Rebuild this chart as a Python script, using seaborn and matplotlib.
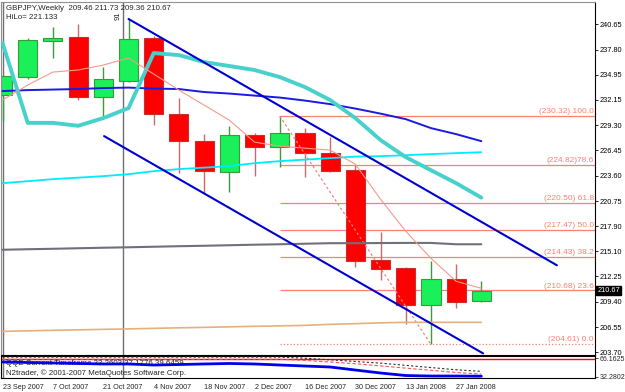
import numpy as np
import pandas as pd
import seaborn as sns
import matplotlib.pyplot as plt
from matplotlib.transforms import blended_transform_factory

# weekly bars
dates = ['23 Sep 2007', '30 Sep 2007', '7 Oct 2007', '14 Oct 2007', '21 Oct 2007',
         '28 Oct 2007', '4 Nov 2007', '11 Nov 2007', '18 Nov 2007', '25 Nov 2007',
         '2 Dec 2007', '9 Dec 2007', '16 Dec 2007', '23 Dec 2007', '30 Dec 2007',
         '6 Jan 2008', '13 Jan 2008', '20 Jan 2008', '27 Jan 2008', '3 Feb 2008']
open_ = [232.68, 234.71, 238.77, 239.22, 232.45, 234.26, 239.10, 230.54, 227.50, 224.00,
         228.17, 226.82, 228.40, 226.14, 224.22, 214.08, 213.17, 209.00, 211.93, 209.46]
high = [234.90, 239.10, 240.35, 240.68, 235.84, 241.25, 239.30, 232.34, 228.28, 229.18,
        228.40, 230.32, 228.96, 227.94, 224.79, 217.23, 213.29, 213.96, 213.62, 211.73]
low = [229.75, 234.48, 236.85, 232.12, 230.19, 234.20, 229.30, 223.89, 221.63, 221.74,
       223.55, 224.60, 223.44, 224.00, 213.29, 211.82, 206.86, 204.61, 208.66, 209.36]
close = [234.82, 238.88, 239.10, 232.45, 234.48, 238.99, 230.54, 227.50, 224.11, 228.17,
         226.82, 228.40, 226.14, 224.11, 213.96, 213.06, 209.00, 211.93, 209.34, 210.67]

# indicator lines on the price chart
hilo = [238.54, 229.55, 229.55, 229.22, 230.09, 231.21, 237.41, 237.18, 236.40, 235.95,
        235.50, 234.71, 233.58, 232.12, 230.09, 227.61, 225.69, 224.22, 222.76, 221.13]
ma_fast = [232.12, 233.81, 235.27, 235.50, 236.06, 236.85, 235.05, 233.24, 231.55, 229.86,
           227.38, 226.93, 226.70, 226.48, 224.90, 220.95, 217.35, 214.30, 211.71, 210.92]
ma_blue = [233.13, 233.24, 233.30, 233.36, 233.47, 233.52, 233.41, 233.36, 233.02, 232.85,
           232.62, 232.40, 232.06, 231.66, 231.16, 230.59, 229.97, 228.96, 228.28, 227.49]
ma_cyan = [222.76, 222.98, 223.21, 223.38, 223.55, 223.77, 224.11, 224.34, 224.51, 224.68,
           225.01, 225.24, 225.41, 225.58, 225.75, 225.80, 225.91, 226.03, 226.14, 226.25]
ma_gray = [215.26, 215.32, 215.37, 215.43, 215.49, 215.54, 215.60, 215.66, 215.71, 215.77,
           215.83, 215.88, 215.94, 216.00, 216.00, 216.02, 216.03, 216.03, 215.88, 215.88]
ma_tan = [206.07, 206.13, 206.19, 206.24, 206.30, 206.35, 206.41, 206.47, 206.52, 206.58,
          206.64, 206.69, 206.75, 206.86, 206.94, 207.03, 207.09, 207.09, 207.09, 207.09]

# channel and fibonacci objects
upper_chan_x = [5.0, 22.0]
upper_chan_y = [241.25, 213.51]
lower_chan_x = [4.03, 19.07]
lower_chan_y = [228.06, 203.59]
vline_x = [0.0, 4.78]
fib_x = [11, 17]
fib_y = [230.32, 204.61]
fib_levels = [230.32, 224.82, 220.50, 217.47, 214.43, 210.68, 204.61]
fib_labels = ['(230.32) 100.0', '(224.82)78.6', '(220.50) 61.8', '(217.47) 50.0',
              '(214.43) 38.2', '(210.68) 23.6', '(204.61) 0.0']
price_ticks = [240.65, 237.80, 234.95, 232.15, 229.30, 226.45, 223.60, 220.75,
               217.90, 215.10, 212.25, 209.40, 206.55, 203.70]

# QQE sub window
qqe_rsi = [59.1, 58.2, 57.3, 56.4, 55.5, 55.5, 53.6, 54.5, 55.5, 56.4,
           55.5, 53.6, 51.8, 50.0, 44.5, 39.1, 34.5, 33.6, 33.6, 33.26]
qqe_fast = [64, 64, 64, 64, 64, 64, 64, 64, 64, 64, 64, 64, 62, 59, 56, 52, 48, 44, 40, 37.18]
qqe_slow = [68, 68, 68, 68, 68, 68, 68, 68, 68, 68, 68, 68, 66, 63, 60, 57, 53, 49, 45, 42]
qqe_level = 64
qqe_ticks = [66.1625, 32.2802]

df = pd.DataFrame({'bar': np.arange(len(dates)), 'open': open_, 'high': high,
                   'low': low, 'close': close})

sns.set_style('white')
plt.rcParams['font.family'] = ['Liberation Sans', 'DejaVu Sans']
plt.rcParams['font.size'] = 6

fig = plt.figure(figsize=(6.25, 3.92), dpi=100)
ax = fig.add_axes([1 / 625, 1 - 355 / 392, 594 / 625, 353 / 392])
ax2 = fig.add_axes([1 / 625, 1 - 378 / 392, 594 / 625, 22 / 392])

x = df['bar'].values
up = df['close'].values >= df['open'].values
body_lo = np.minimum(df['open'], df['close']).values
body_h = np.abs(df['close'] - df['open']).values

# wicks then bodies
ax.vlines(x[up], df['low'][up], df['high'][up], color='#3c9c3c', lw=1, zorder=2)
ax.vlines(x[~up], df['low'][~up], df['high'][~up], color='#c86a6a', lw=1, zorder=2)
ax.bar(x[up], body_h[up], bottom=body_lo[up], width=0.76, color='#19f05a',
       edgecolor='#3a9a3a', lw=0.8, zorder=2)
ax.bar(x[~up], body_h[~up], bottom=body_lo[~up], width=0.76, color='#ff0000',
       edgecolor='#c83030', lw=0.8, zorder=2)

for v in vline_x:
    ax.axvline(v, color='#6e6e78', lw=1, zorder=1)
    ax2.axvline(v, color='#6e6e78', lw=1, zorder=1)

xmax = 23.51
for lvl, lab in zip(fib_levels, fib_labels):
    ls = ':' if lvl == fib_levels[-1] else '-'
    ax.hlines(lvl, fib_x[0], xmax, colors='#fa8072', lw=0.9, linestyles=ls, zorder=1)
    ax.text(0.998, lvl + 0.1, lab, transform=blended_transform_factory(ax.transAxes, ax.transData),
            ha='right', va='bottom', color='#fa8072', fontsize=6)
ax.plot(fib_x, fib_y, color='#fa8072', lw=0.9, ls=(0, (2, 2)), zorder=3)

sns.lineplot(x=x, y=ma_tan, ax=ax, color='#e6b07a', lw=1.2, zorder=3)
sns.lineplot(x=x, y=ma_gray, ax=ax, color='#70707c', lw=1.5, zorder=3)
sns.lineplot(x=x, y=ma_cyan, ax=ax, color='#00eaff', lw=1.3, zorder=3)
sns.lineplot(x=x, y=ma_blue, ax=ax, color='#1a1ae0', lw=1.4, zorder=3)
sns.lineplot(x=x, y=hilo, ax=ax, color='#48d0cc', lw=2.8, zorder=3)
sns.lineplot(x=x, y=ma_fast, ax=ax, color='#f59a8a', lw=0.8, zorder=4)

ax.plot(upper_chan_x, upper_chan_y, color='#0000d0', lw=1.5, zorder=4)
ax.plot(lower_chan_x, lower_chan_y, color='#0000d0', lw=1.5, zorder=4)

ax.set_xlim(-0.06, xmax)
ax.set_ylim(203.41, 243.16)
ax.yaxis.tick_right()
ax.set_yticks(price_ticks)
ax.set_yticklabels([f'{t:.2f}' for t in price_ticks])
ax.tick_params(axis='y', length=2.5, width=0.6, pad=1, labelsize=5.3, colors='black')
ax.tick_params(axis='x', bottom=False, labelbottom=False)
ax.set_xlabel('')
ax.set_ylabel('')

ax.text(0.008, 0.992, 'GBPJPY,Weekly  209.46 211.73 209.36 210.67', transform=ax.transAxes,
        ha='left', va='top', fontsize=5.7)
ax.text(0.008, 0.967, 'HiLo= 221.133', transform=ax.transAxes, ha='left', va='top', fontsize=5.7)
ax.text(vline_x[1] - 0.2, 241.6, '91', rotation=90, ha='center', va='center', fontsize=5.5)
ax.text(1.004, close[-1], f'{close[-1]:.2f}', transform=blended_transform_factory(ax.transAxes, ax.transData),
        ha='left', va='center', color='white', fontsize=5.3,
        bbox=dict(facecolor='black', edgecolor='black', pad=0.8))

for s in ['left', 'top']:
    ax.spines[s].set_color('#909090')
for s in ['right', 'bottom']:
    ax.spines[s].set_color('black')
for s in ax.spines.values():
    s.set_linewidth(0.8)

# QQE panel
ax2.axhline(qqe_level, color='red', lw=1, zorder=2)
sns.lineplot(x=x, y=qqe_slow, ax=ax2, color='#303030', lw=0.8, ls=(0, (2, 2)), zorder=3)
sns.lineplot(x=x, y=qqe_fast, ax=ax2, color='#ff5050', lw=0.8, ls=(0, (3, 2)), zorder=3)
sns.lineplot(x=x, y=qqe_rsi, ax=ax2, color='#0000ee', lw=2.0, zorder=4)
ax2.set_xlim(-0.06, xmax)
ax2.set_ylim(30, 70)
ax2.yaxis.tick_right()
ax2.set_yticks(qqe_ticks)
ax2.set_yticklabels(['66.1625', '32.2802'])
ax2.tick_params(axis='y', length=2.5, width=0.6, pad=1, labelsize=5)
ax2.set_xticks(x[::2])
ax2.set_xticklabels(dates[::2], ha='left')
ax2.tick_params(axis='x', length=3, width=0.6, pad=1, labelsize=5.2)
ax2.set_xlabel('')
ax2.set_ylabel('')
ax2.text(0.008, 0.64, 'QQE Current Timeframe 33.2603 37.1776 39.6459', transform=ax2.transAxes,
         ha='left', va='center', fontsize=5.7)
ax2.text(0.008, 0.23, 'N2trader, \u00a9 2001-2007 MetaQuotes Software Corp.', transform=ax2.transAxes,
         ha='left', va='center', fontsize=5.7)
for s in ax2.spines.values():
    s.set_color('black')
    s.set_linewidth(0.8)

fig.savefig('out.png', dpi=100)
